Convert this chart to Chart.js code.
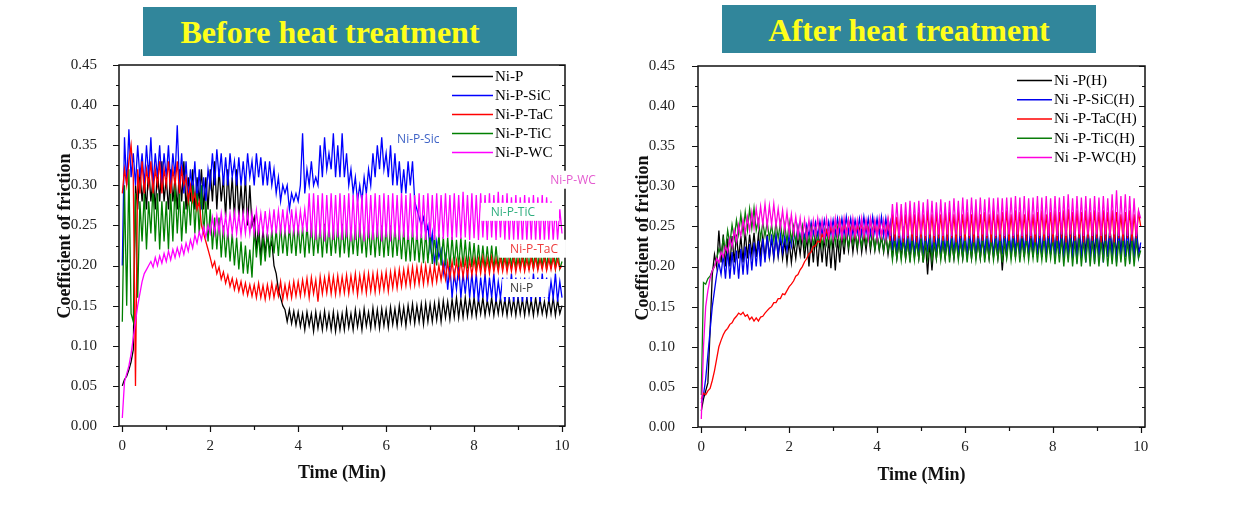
<!DOCTYPE html>
<html>
<head>
<meta charset="utf-8">
<script src="https://cdn.jsdelivr.net/npm/chart.js@4/dist/chart.umd.min.js"></script>
<style>
body{margin:0;background:#fff;width:1240px;height:514px;position:relative;overflow:hidden}
.head{position:absolute;background:#31869b;color:#ffff1a;font:bold 32px "Liberation Serif",serif;text-align:center}
.pane{position:absolute;top:0;width:620px;height:514px}
</style>
</head>
<body>
<div class="head" style="left:143px;top:7px;width:374px;height:49px;line-height:51px">Before heat treatment</div>
<div class="head" style="left:722px;top:5px;width:374px;height:48px;line-height:50px">After heat treatment</div>
<div class="pane" style="left:0"><canvas id="before" width="620" height="514"></canvas></div>
<div class="pane" style="left:620px"><canvas id="after" width="620" height="514"></canvas></div>
<script>
// time axis runs 0..10 min, each series is sampled evenly over it (20 readings per minute)
const TIME_END = 10;
const yMajor = [0, 0.05, 0.1, 0.15, 0.2, 0.25, 0.3, 0.35, 0.4, 0.45];
const yMinor = [0.025, 0.075, 0.125, 0.175, 0.225, 0.275, 0.325, 0.375, 0.425];
const xMajor = [0, 2, 4, 6, 8, 10];
const xMinor = [1, 3, 5, 7, 9];

const beforeLabels = ['Ni-P', 'Ni-P-SiC', 'Ni-P-TaC', 'Ni-P-TiC', 'Ni-P-WC'];
const afterLabels = ['Ni -P(H)', 'Ni -P-SiC(H)', 'Ni -P-TaC(H)', 'Ni -P-TiC(H)', 'Ni -P-WC(H)'];

// before heat treatment
const niP = [
  0.05, 0.058, 0.062, 0.07, 0.08, 0.095, 0.30, 0.27, 0.32, 0.28, 0.31, 0.27, 0.325, 0.28, 0.31, 0.27, 0.32, 0.28, 0.33, 0.28,
  0.31, 0.27, 0.32, 0.28, 0.31, 0.27, 0.32, 0.28, 0.33, 0.27, 0.31, 0.28, 0.32, 0.27, 0.31, 0.28, 0.32, 0.27, 0.31, 0.27,
  0.32, 0.28, 0.33, 0.27, 0.32, 0.28, 0.31, 0.26, 0.32, 0.27, 0.31, 0.26, 0.32, 0.26, 0.30, 0.26, 0.31, 0.25, 0.30, 0.25,
  0.26, 0.22, 0.25, 0.21, 0.245, 0.215, 0.24, 0.22, 0.23, 0.20, 0.19, 0.17, 0.16, 0.15, 0.145, 0.13, 0.145, 0.128, 0.143, 0.126,
  0.142, 0.124, 0.14, 0.12, 0.142, 0.125, 0.14, 0.118, 0.142, 0.122, 0.14, 0.12, 0.143, 0.122, 0.14, 0.12, 0.142, 0.118, 0.14, 0.12,
  0.14, 0.12, 0.145, 0.123, 0.14, 0.12, 0.145, 0.124, 0.142, 0.12, 0.146, 0.125, 0.142, 0.122, 0.147, 0.124, 0.145, 0.122, 0.146, 0.125,
  0.145, 0.123, 0.148, 0.127, 0.146, 0.125, 0.15, 0.128, 0.148, 0.125, 0.15, 0.13, 0.152, 0.128, 0.15, 0.13, 0.152, 0.127, 0.153, 0.13,
  0.152, 0.13, 0.153, 0.132, 0.155, 0.13, 0.156, 0.135, 0.155, 0.133, 0.158, 0.136, 0.16, 0.135, 0.158, 0.136, 0.16, 0.137, 0.158, 0.138,
  0.16, 0.137, 0.158, 0.14, 0.16, 0.138, 0.157, 0.14, 0.16, 0.138, 0.158, 0.14, 0.16, 0.14, 0.158, 0.138, 0.16, 0.14, 0.158, 0.138,
  0.16, 0.14, 0.158, 0.138, 0.16, 0.14, 0.157, 0.138, 0.16, 0.14, 0.158, 0.14, 0.155, 0.138, 0.158, 0.14, 0.16, 0.138, 0.157, 0.14,
  0.15
];
const niPSiC = [
  0.20, 0.36, 0.30, 0.37, 0.31, 0.34, 0.30, 0.35, 0.31, 0.34, 0.30, 0.35, 0.31, 0.36, 0.30, 0.34, 0.31, 0.35, 0.30, 0.34,
  0.31, 0.35, 0.30, 0.34, 0.31, 0.375, 0.30, 0.34, 0.29, 0.33, 0.28, 0.32, 0.29, 0.33, 0.28, 0.32, 0.27, 0.31, 0.28, 0.32,
  0.30, 0.34, 0.30, 0.345, 0.31, 0.34, 0.30, 0.335, 0.30, 0.34, 0.31, 0.33, 0.30, 0.335, 0.30, 0.33, 0.30, 0.34, 0.31, 0.33,
  0.30, 0.34, 0.31, 0.335, 0.30, 0.33, 0.30, 0.33, 0.30, 0.32, 0.29, 0.31, 0.28, 0.30, 0.29, 0.30, 0.27, 0.29, 0.28, 0.29,
  0.28, 0.30, 0.365, 0.29, 0.32, 0.30, 0.33, 0.30, 0.31, 0.30, 0.35, 0.31, 0.36, 0.32, 0.34, 0.32, 0.365, 0.31, 0.35, 0.31,
  0.365, 0.31, 0.34, 0.30, 0.32, 0.29, 0.31, 0.28, 0.30, 0.28, 0.31, 0.29, 0.32, 0.30, 0.34, 0.31, 0.35, 0.32, 0.36, 0.32,
  0.34, 0.31, 0.35, 0.30, 0.34, 0.30, 0.33, 0.29, 0.32, 0.29, 0.33, 0.30, 0.33, 0.28, 0.27, 0.26, 0.25, 0.26, 0.24, 0.25,
  0.22, 0.24, 0.20, 0.23, 0.21, 0.22, 0.19, 0.21, 0.17, 0.20, 0.16, 0.19, 0.17, 0.20, 0.16, 0.19, 0.165, 0.195, 0.16, 0.19,
  0.16, 0.19, 0.155, 0.185, 0.16, 0.19, 0.155, 0.185, 0.16, 0.19, 0.155, 0.18, 0.16, 0.185, 0.155, 0.18, 0.16, 0.19, 0.155, 0.185,
  0.16, 0.18, 0.155, 0.185, 0.16, 0.18, 0.155, 0.19, 0.16, 0.185, 0.155, 0.19, 0.16, 0.185, 0.155, 0.18, 0.16, 0.19, 0.155, 0.18,
  0.16
];
const niPTaC = [
  0.29, 0.32, 0.30, 0.33, 0.35, 0.31, 0.05, 0.32, 0.29, 0.33, 0.29, 0.32, 0.30, 0.33, 0.29, 0.32, 0.30, 0.33, 0.29, 0.32,
  0.30, 0.33, 0.29, 0.32, 0.30, 0.33, 0.29, 0.32, 0.30, 0.31, 0.28, 0.30, 0.28, 0.29, 0.27, 0.28, 0.25, 0.24, 0.23, 0.22,
  0.21, 0.198, 0.205, 0.19, 0.198, 0.183, 0.192, 0.178, 0.188, 0.174, 0.184, 0.17, 0.182, 0.168, 0.18, 0.165, 0.178, 0.163, 0.176, 0.162,
  0.176, 0.16, 0.178, 0.16, 0.175, 0.158, 0.176, 0.16, 0.178, 0.16, 0.175, 0.162, 0.18, 0.158, 0.176, 0.16, 0.178, 0.16, 0.18, 0.162,
  0.18, 0.162, 0.182, 0.164, 0.184, 0.16, 0.185, 0.165, 0.182, 0.155, 0.186, 0.165, 0.185, 0.166, 0.188, 0.165, 0.186, 0.164, 0.187, 0.165,
  0.186, 0.166, 0.188, 0.165, 0.187, 0.168, 0.19, 0.164, 0.188, 0.168, 0.19, 0.166, 0.19, 0.168, 0.19, 0.167, 0.191, 0.168, 0.19, 0.17,
  0.192, 0.168, 0.192, 0.172, 0.194, 0.172, 0.195, 0.174, 0.195, 0.175, 0.197, 0.175, 0.198, 0.176, 0.198, 0.177, 0.199, 0.177, 0.2, 0.178,
  0.198, 0.178, 0.2, 0.18, 0.2, 0.182, 0.202, 0.183, 0.204, 0.184, 0.205, 0.185, 0.206, 0.186, 0.206, 0.186, 0.207, 0.187, 0.207, 0.188,
  0.208, 0.19, 0.208, 0.19, 0.21, 0.19, 0.208, 0.19, 0.21, 0.192, 0.208, 0.192, 0.21, 0.193, 0.21, 0.192, 0.208, 0.193, 0.21, 0.192,
  0.208, 0.194, 0.21, 0.193, 0.208, 0.194, 0.21, 0.195, 0.21, 0.194, 0.208, 0.195, 0.21, 0.194, 0.208, 0.195, 0.21, 0.195, 0.208, 0.196,
  0.2
];
const niPTiC = [
  0.13, 0.30, 0.15, 0.32, 0.14, 0.13, 0.29, 0.16, 0.28, 0.23, 0.29, 0.22, 0.28, 0.24, 0.30, 0.23, 0.29, 0.22, 0.28, 0.23,
  0.28, 0.22, 0.29, 0.23, 0.30, 0.24, 0.29, 0.23, 0.28, 0.24, 0.29, 0.25, 0.30, 0.24, 0.29, 0.24, 0.30, 0.24, 0.28, 0.23,
  0.27, 0.22, 0.26, 0.22, 0.26, 0.21, 0.25, 0.21, 0.245, 0.205, 0.24, 0.20, 0.235, 0.195, 0.23, 0.19, 0.225, 0.19, 0.22, 0.185,
  0.245, 0.21, 0.24, 0.20, 0.235, 0.205, 0.24, 0.21, 0.245, 0.215, 0.245, 0.212, 0.25, 0.215, 0.245, 0.212, 0.25, 0.215, 0.248, 0.212,
  0.25, 0.215, 0.248, 0.21, 0.25, 0.215, 0.252, 0.212, 0.248, 0.215, 0.25, 0.21, 0.252, 0.215, 0.25, 0.212, 0.248, 0.215, 0.25, 0.21,
  0.252, 0.215, 0.25, 0.21, 0.248, 0.214, 0.25, 0.212, 0.252, 0.215, 0.248, 0.21, 0.25, 0.213, 0.25, 0.21, 0.248, 0.212, 0.25, 0.21,
  0.248, 0.212, 0.25, 0.21, 0.248, 0.212, 0.245, 0.208, 0.245, 0.205, 0.242, 0.205, 0.245, 0.206, 0.242, 0.204, 0.24, 0.203, 0.242, 0.203,
  0.24, 0.202, 0.238, 0.2, 0.24, 0.2, 0.236, 0.2, 0.235, 0.198, 0.236, 0.2, 0.232, 0.198, 0.235, 0.198, 0.232, 0.196, 0.23, 0.198,
  0.228, 0.195, 0.226, 0.196, 0.225, 0.195, 0.224, 0.196, 0.225, 0.195, 0.224, 0.195, 0.225, 0.196, 0.224, 0.195, 0.226, 0.196, 0.224, 0.195,
  0.225, 0.196, 0.224, 0.197, 0.222, 0.195, 0.225, 0.196, 0.224, 0.195, 0.226, 0.196, 0.224, 0.195, 0.225, 0.196, 0.224, 0.197, 0.222, 0.196,
  0.205
];
const niPWC = [
  0.01, 0.055, 0.065, 0.075, 0.09, 0.11, 0.13, 0.15, 0.165, 0.18, 0.19, 0.195, 0.2, 0.205, 0.198, 0.21, 0.2, 0.212, 0.203, 0.215,
  0.205, 0.218, 0.207, 0.22, 0.21, 0.222, 0.212, 0.225, 0.214, 0.228, 0.218, 0.232, 0.222, 0.238, 0.228, 0.242, 0.232, 0.248, 0.235, 0.25,
  0.24, 0.26, 0.24, 0.262, 0.242, 0.265, 0.24, 0.262, 0.238, 0.265, 0.24, 0.266, 0.24, 0.264, 0.238, 0.265, 0.24, 0.266, 0.24, 0.265,
  0.24, 0.268, 0.242, 0.265, 0.24, 0.268, 0.24, 0.266, 0.242, 0.27, 0.24, 0.268, 0.242, 0.27, 0.242, 0.268, 0.24, 0.27, 0.242, 0.268,
  0.242, 0.268, 0.245, 0.27, 0.242, 0.29, 0.235, 0.29, 0.232, 0.288, 0.235, 0.29, 0.23, 0.288, 0.235, 0.29, 0.232, 0.288, 0.235, 0.29,
  0.232, 0.288, 0.235, 0.29, 0.23, 0.288, 0.232, 0.29, 0.235, 0.288, 0.23, 0.29, 0.234, 0.288, 0.232, 0.29, 0.235, 0.288, 0.23, 0.29,
  0.235, 0.288, 0.23, 0.29, 0.235, 0.288, 0.232, 0.29, 0.235, 0.288, 0.232, 0.29, 0.235, 0.288, 0.232, 0.29, 0.234, 0.288, 0.232, 0.29,
  0.235, 0.288, 0.232, 0.29, 0.235, 0.288, 0.233, 0.29, 0.235, 0.288, 0.232, 0.29, 0.235, 0.288, 0.233, 0.292, 0.235, 0.288, 0.232, 0.29,
  0.234, 0.288, 0.232, 0.29, 0.235, 0.288, 0.232, 0.29, 0.235, 0.288, 0.232, 0.292, 0.235, 0.288, 0.232, 0.29, 0.23, 0.285, 0.232, 0.288,
  0.23, 0.285, 0.228, 0.288, 0.23, 0.285, 0.232, 0.288, 0.23, 0.285, 0.228, 0.288, 0.23, 0.285, 0.232, 0.28, 0.23, 0.275, 0.232, 0.27,
  0.24
];

// after heat treatment
const niPH = [
  0.02, 0.035, 0.045, 0.055, 0.12, 0.19, 0.215, 0.2, 0.245, 0.205, 0.24, 0.2, 0.235, 0.2, 0.238, 0.205, 0.24, 0.21, 0.238, 0.205,
  0.245, 0.21, 0.24, 0.215, 0.242, 0.212, 0.24, 0.215, 0.238, 0.21, 0.24, 0.212, 0.235, 0.21, 0.238, 0.212, 0.235, 0.21, 0.232, 0.205,
  0.232, 0.205, 0.23, 0.21, 0.235, 0.215, 0.24, 0.21, 0.238, 0.2, 0.235, 0.205, 0.24, 0.2, 0.235, 0.205, 0.238, 0.2, 0.235, 0.198,
  0.235, 0.195, 0.235, 0.205, 0.24, 0.215, 0.245, 0.22, 0.245, 0.218, 0.242, 0.22, 0.245, 0.218, 0.24, 0.22, 0.245, 0.22, 0.242, 0.22,
  0.24, 0.22, 0.238, 0.218, 0.24, 0.215, 0.235, 0.212, 0.235, 0.21, 0.232, 0.212, 0.235, 0.21, 0.232, 0.21, 0.235, 0.212, 0.232, 0.21,
  0.235, 0.205, 0.232, 0.19, 0.23, 0.195, 0.232, 0.21, 0.235, 0.212, 0.232, 0.21, 0.235, 0.212, 0.232, 0.21, 0.235, 0.212, 0.232, 0.21,
  0.235, 0.212, 0.232, 0.21, 0.235, 0.212, 0.232, 0.21, 0.235, 0.212, 0.232, 0.21, 0.235, 0.212, 0.232, 0.21, 0.235, 0.195, 0.232, 0.212,
  0.24, 0.215, 0.242, 0.212, 0.245, 0.215, 0.24, 0.212, 0.245, 0.215, 0.242, 0.212, 0.245, 0.215, 0.24, 0.212, 0.245, 0.215, 0.242, 0.215,
  0.245, 0.215, 0.25, 0.218, 0.245, 0.215, 0.25, 0.215, 0.245, 0.218, 0.25, 0.215, 0.245, 0.215, 0.25, 0.218, 0.245, 0.215, 0.25, 0.218,
  0.245, 0.215, 0.25, 0.218, 0.245, 0.215, 0.248, 0.218, 0.245, 0.215, 0.248, 0.218, 0.245, 0.215, 0.25, 0.218, 0.245, 0.215, 0.248, 0.22,
  0.225
];
const niPSiCH = [
  0.03, 0.04, 0.06, 0.09, 0.12, 0.15, 0.17, 0.19, 0.205, 0.19, 0.215, 0.185, 0.22, 0.185, 0.218, 0.19, 0.22, 0.185, 0.222, 0.19,
  0.225, 0.19, 0.228, 0.195, 0.23, 0.2, 0.232, 0.2, 0.235, 0.205, 0.238, 0.21, 0.24, 0.212, 0.238, 0.215, 0.24, 0.218, 0.238, 0.22,
  0.24, 0.225, 0.245, 0.23, 0.25, 0.232, 0.25, 0.235, 0.252, 0.238, 0.255, 0.24, 0.255, 0.238, 0.256, 0.24, 0.258, 0.24, 0.256, 0.24,
  0.258, 0.24, 0.26, 0.242, 0.26, 0.24, 0.262, 0.242, 0.26, 0.24, 0.258, 0.242, 0.26, 0.24, 0.262, 0.242, 0.26, 0.24, 0.262, 0.242,
  0.26, 0.24, 0.262, 0.238, 0.26, 0.238, 0.255, 0.22, 0.25, 0.218, 0.248, 0.22, 0.25, 0.215, 0.248, 0.218, 0.25, 0.215, 0.248, 0.218,
  0.25, 0.215, 0.245, 0.218, 0.248, 0.215, 0.25, 0.218, 0.245, 0.215, 0.248, 0.218, 0.25, 0.215, 0.245, 0.218, 0.248, 0.215, 0.25, 0.218,
  0.245, 0.215, 0.248, 0.218, 0.25, 0.215, 0.245, 0.218, 0.248, 0.215, 0.25, 0.218, 0.245, 0.215, 0.248, 0.218, 0.25, 0.215, 0.248, 0.218,
  0.25, 0.215, 0.248, 0.218, 0.252, 0.215, 0.25, 0.218, 0.248, 0.215, 0.252, 0.218, 0.25, 0.215, 0.248, 0.215, 0.25, 0.212, 0.252, 0.215,
  0.25, 0.212, 0.252, 0.215, 0.25, 0.21, 0.248, 0.212, 0.25, 0.21, 0.248, 0.205, 0.25, 0.21, 0.248, 0.205, 0.25, 0.21, 0.248, 0.205,
  0.25, 0.21, 0.248, 0.205, 0.25, 0.212, 0.248, 0.21, 0.25, 0.205, 0.248, 0.21, 0.25, 0.212, 0.248, 0.205, 0.25, 0.21, 0.248, 0.212,
  0.23
];
const niPTaCH = [
  0.035, 0.042, 0.04, 0.045, 0.048, 0.058, 0.07, 0.085, 0.1, 0.108, 0.115, 0.12, 0.123, 0.128, 0.13, 0.135, 0.138, 0.142, 0.14, 0.143,
  0.138, 0.14, 0.134, 0.137, 0.132, 0.136, 0.132, 0.137, 0.138, 0.142, 0.145, 0.148, 0.15, 0.155, 0.155, 0.16, 0.16, 0.166, 0.165, 0.17,
  0.175, 0.178, 0.182, 0.188, 0.19, 0.196, 0.2, 0.206, 0.21, 0.216, 0.218, 0.225, 0.226, 0.232, 0.23, 0.24, 0.235, 0.245, 0.236, 0.25,
  0.238, 0.255, 0.24, 0.258, 0.238, 0.255, 0.24, 0.258, 0.24, 0.255, 0.238, 0.252, 0.24, 0.255, 0.238, 0.255, 0.24, 0.258, 0.238, 0.255,
  0.24, 0.255, 0.238, 0.255, 0.24, 0.258, 0.232, 0.265, 0.232, 0.262, 0.235, 0.268, 0.23, 0.265, 0.235, 0.268, 0.232, 0.265, 0.23, 0.268,
  0.235, 0.265, 0.232, 0.27, 0.235, 0.265, 0.23, 0.268, 0.235, 0.265, 0.232, 0.27, 0.232, 0.268, 0.235, 0.265, 0.23, 0.27, 0.235, 0.265,
  0.232, 0.268, 0.235, 0.265, 0.23, 0.27, 0.235, 0.265, 0.232, 0.268, 0.235, 0.265, 0.23, 0.27, 0.235, 0.265, 0.232, 0.268, 0.235, 0.27,
  0.232, 0.265, 0.235, 0.27, 0.23, 0.268, 0.235, 0.265, 0.232, 0.27, 0.235, 0.265, 0.23, 0.268, 0.235, 0.27, 0.232, 0.265, 0.235, 0.268,
  0.23, 0.27, 0.232, 0.268, 0.235, 0.27, 0.23, 0.272, 0.235, 0.268, 0.232, 0.27, 0.235, 0.268, 0.23, 0.27, 0.235, 0.268, 0.232, 0.27,
  0.235, 0.268, 0.23, 0.27, 0.232, 0.268, 0.235, 0.27, 0.23, 0.268, 0.235, 0.265, 0.232, 0.268, 0.235, 0.27, 0.232, 0.265, 0.235, 0.268,
  0.25
];
const niPTiCH = [
  0.04, 0.18, 0.178, 0.185, 0.188, 0.195, 0.2, 0.21, 0.222, 0.215, 0.235, 0.22, 0.245, 0.228, 0.252, 0.235, 0.258, 0.24, 0.265, 0.242,
  0.268, 0.245, 0.272, 0.248, 0.273, 0.245, 0.258, 0.235, 0.255, 0.238, 0.255, 0.235, 0.252, 0.232, 0.255, 0.235, 0.255, 0.232, 0.252, 0.23,
  0.255, 0.232, 0.25, 0.228, 0.248, 0.23, 0.25, 0.225, 0.245, 0.228, 0.248, 0.225, 0.245, 0.228, 0.248, 0.225, 0.245, 0.228, 0.245, 0.225,
  0.245, 0.228, 0.248, 0.225, 0.245, 0.228, 0.245, 0.225, 0.242, 0.228, 0.245, 0.225, 0.242, 0.225, 0.245, 0.228, 0.242, 0.225, 0.245, 0.222,
  0.24, 0.222, 0.238, 0.22, 0.238, 0.22, 0.235, 0.208, 0.235, 0.21, 0.232, 0.208, 0.235, 0.21, 0.232, 0.205, 0.235, 0.208, 0.232, 0.21,
  0.235, 0.205, 0.232, 0.21, 0.235, 0.208, 0.232, 0.21, 0.235, 0.208, 0.232, 0.21, 0.235, 0.205, 0.232, 0.21, 0.235, 0.208, 0.232, 0.21,
  0.235, 0.205, 0.232, 0.21, 0.235, 0.208, 0.232, 0.21, 0.235, 0.205, 0.232, 0.21, 0.235, 0.208, 0.232, 0.21, 0.235, 0.205, 0.232, 0.21,
  0.235, 0.208, 0.232, 0.21, 0.235, 0.205, 0.232, 0.21, 0.235, 0.208, 0.232, 0.21, 0.235, 0.205, 0.232, 0.208, 0.235, 0.205, 0.232, 0.21,
  0.235, 0.203, 0.232, 0.205, 0.235, 0.2, 0.232, 0.205, 0.235, 0.2, 0.232, 0.203, 0.235, 0.2, 0.232, 0.205, 0.235, 0.2, 0.232, 0.203,
  0.235, 0.2, 0.232, 0.205, 0.235, 0.2, 0.232, 0.203, 0.235, 0.2, 0.232, 0.205, 0.235, 0.2, 0.232, 0.203, 0.235, 0.2, 0.232, 0.21,
  0.22
];
const niPWCH = [
  0.01, 0.1, 0.15, 0.17, 0.185, 0.195, 0.2, 0.21, 0.205, 0.218, 0.212, 0.225, 0.218, 0.235, 0.225, 0.245, 0.232, 0.252, 0.238, 0.258,
  0.242, 0.262, 0.245, 0.268, 0.248, 0.272, 0.25, 0.275, 0.252, 0.278, 0.25, 0.276, 0.252, 0.278, 0.25, 0.272, 0.248, 0.27, 0.245, 0.268,
  0.242, 0.265, 0.24, 0.262, 0.238, 0.26, 0.235, 0.258, 0.235, 0.258, 0.235, 0.258, 0.238, 0.26, 0.238, 0.258, 0.235, 0.26, 0.238, 0.258,
  0.235, 0.26, 0.238, 0.258, 0.235, 0.26, 0.238, 0.258, 0.235, 0.26, 0.238, 0.258, 0.235, 0.26, 0.238, 0.258, 0.235, 0.26, 0.238, 0.258,
  0.235, 0.26, 0.238, 0.258, 0.235, 0.26, 0.238, 0.278, 0.24, 0.28, 0.238, 0.278, 0.235, 0.28, 0.238, 0.282, 0.24, 0.28, 0.238, 0.282,
  0.24, 0.28, 0.238, 0.284, 0.24, 0.282, 0.238, 0.28, 0.24, 0.284, 0.238, 0.28, 0.24, 0.282, 0.238, 0.285, 0.24, 0.282, 0.238, 0.286,
  0.24, 0.284, 0.238, 0.286, 0.24, 0.284, 0.238, 0.286, 0.24, 0.284, 0.238, 0.286, 0.24, 0.285, 0.238, 0.286, 0.24, 0.285, 0.238, 0.286,
  0.24, 0.286, 0.238, 0.288, 0.24, 0.286, 0.238, 0.288, 0.24, 0.285, 0.238, 0.286, 0.24, 0.288, 0.238, 0.286, 0.24, 0.288, 0.238, 0.285,
  0.24, 0.288, 0.238, 0.286, 0.24, 0.288, 0.238, 0.29, 0.24, 0.285, 0.238, 0.288, 0.24, 0.286, 0.238, 0.288, 0.24, 0.285, 0.238, 0.288,
  0.24, 0.286, 0.238, 0.288, 0.24, 0.285, 0.238, 0.29, 0.24, 0.295, 0.238, 0.288, 0.24, 0.29, 0.238, 0.288, 0.24, 0.285, 0.238, 0.27,
  0.26
];

const serif = '"Liberation Serif", "Times New Roman", serif';

function toPoints(vals) {
  return vals.map((v, i) => ({ x: i * TIME_END / (vals.length - 1), y: v }));
}

// frame, ticks, axis titles, legend and the text notes
const deco = {
  id: 'deco',
  afterDraw(chart, args, o) {
    const { ctx, chartArea: a, scales: { x, y } } = chart;
    ctx.save();
    ctx.strokeStyle = '#111';
    ctx.lineWidth = 1.5;
    ctx.strokeRect(a.left, a.top, a.right - a.left, a.bottom - a.top);
    ctx.lineWidth = 1.2;
    ctx.beginPath();
    const yt = (v, len) => {
      const p = Math.round(y.getPixelForValue(v)) + 0.5;
      ctx.moveTo(a.left - len, p); ctx.lineTo(a.left, p);
      ctx.moveTo(a.right, p); ctx.lineTo(a.right - len, p);
    };
    yMajor.forEach(v => yt(v, 6));
    yMinor.forEach(v => yt(v, 3));
    const xt = (v, len) => {
      const p = Math.round(x.getPixelForValue(v)) + 0.5;
      ctx.moveTo(p, a.bottom); ctx.lineTo(p, a.bottom + len);
    };
    xMajor.forEach(v => xt(v, 6));
    xMinor.forEach(v => xt(v, 4));
    ctx.stroke();

    // axis titles
    ctx.fillStyle = '#111';
    ctx.font = 'bold 18px ' + serif;
    ctx.textAlign = 'center';
    ctx.textBaseline = 'middle';
    ctx.fillText('Time (Min)', (a.left + a.right) / 2, o.xTitleY);
    ctx.save();
    ctx.translate(o.yTitleX, o.yTitleY);
    ctx.rotate(-Math.PI / 2);
    ctx.fillText('Coefficient of friction', 0, 0);
    ctx.restore();

    // legend
    ctx.font = '15px ' + serif;
    ctx.textAlign = 'left';
    chart.data.datasets.forEach((ds, i) => {
      const ly = o.legendY + i * o.legendGap;
      ctx.strokeStyle = ds.borderColor;
      ctx.lineWidth = 1.5;
      ctx.beginPath();
      ctx.moveTo(o.legendX, ly + 0.5);
      ctx.lineTo(o.legendX + o.legendLine, ly + 0.5);
      ctx.stroke();
      ctx.fillStyle = '#000';
      ctx.fillText(ds.label, o.legendX + o.legendLine + 2, ly + 1);
    });

    // notes placed on the data scales
    ctx.font = '12px "Open Sans", sans-serif';
    (o.notes || []).forEach(n => {
      const px = x.getPixelForValue(n.t);
      const py = y.getPixelForValue(n.v);
      const w = ctx.measureText(n.text).width;
      if (n.box) {
        ctx.fillStyle = '#fff';
        ctx.fillRect(px - n.box[0], py - 9, w + n.box[0] + n.box[1], 18);
      }
      ctx.fillStyle = n.color;
      ctx.fillText(n.text, px, py + 1);
    });
    ctx.restore();
  }
};

function makeChart(id, labels, series, colors, order, lay) {
  new Chart(document.getElementById(id), {
    type: 'line',
    data: {
      datasets: series.map((s, i) => ({
        label: labels[i],
        data: toPoints(s),
        borderColor: colors[i],
        backgroundColor: colors[i],
        borderWidth: 1.3,
        pointRadius: 0,
        tension: 0,
        fill: false,
        order: order[i]
      }))
    },
    options: {
      responsive: false,
      animation: false,
      layout: { padding: { top: lay.top, right: lay.right, bottom: 0, left: 0 } },
      plugins: {
        legend: { display: false },
        tooltip: { enabled: false },
        deco: lay.deco
      },
      scales: {
        x: {
          type: 'linear',
          min: lay.xMin,
          max: lay.xMax,
          afterBuildTicks: s => { s.ticks = xMajor.map(v => ({ value: v })); },
          afterFit: s => { s.height = lay.xHeight; },
          grid: { display: false },
          border: { display: false },
          ticks: { padding: lay.xPad, maxRotation: 0, autoSkip: false, color: '#222', font: { family: serif, size: 15 } }
        },
        y: {
          min: 0,
          max: 0.45,
          afterBuildTicks: s => { s.ticks = yMajor.map(v => ({ value: v })); },
          afterFit: s => { s.width = lay.yWidth; },
          grid: { display: false },
          border: { display: false },
          ticks: { padding: lay.yPad, color: '#222', font: { family: serif, size: 15 }, callback: v => v.toFixed(2) }
        }
      }
    },
    plugins: [deco]
  });
}

makeChart('before', beforeLabels,
  [niP, niPSiC, niPTaC, niPTiC, niPWC],
  ['#000000', '#0000ff', '#ff0000', '#008000', '#ff00ff'],
  [4, 3, 1, 2, 0],
  {
    top: 65, right: 55, xHeight: 88, yWidth: 119, xPad: 3, yPad: 14,
    xMin: -0.075, xMax: 10.068,
    deco: {
      xTitleY: 473, yTitleX: 65, yTitleY: 236,
      legendX: 452, legendY: 76, legendGap: 19, legendLine: 41,
      notes: [
        { text: 'Ni-P-Sic', t: 6.25, v: 0.358, color: '#3f63c6' },
        { text: 'Ni-P-WC', t: 9.73, v: 0.307, color: '#e45ad0', box: [2, 2] },
        { text: 'Ni-P-TiC', t: 8.38, v: 0.267, color: '#2fae7e', box: [10, 24] },
        { text: 'Ni-P-TaC', t: 8.82, v: 0.221, color: '#ee3b3b', box: [11, 8] },
        { text: 'Ni-P', t: 8.82, v: 0.172, color: '#3a3a3a', box: [8, 15] }
      ]
    }
  });

makeChart('after', afterLabels,
  [niPH, niPSiCH, niPTaCH, niPTiCH, niPWCH],
  ['#000000', '#0000ee', '#ff0000', '#0a7d0a', '#ff00dd'],
  [4, 3, 1, 2, 0],
  {
    top: 66, right: 95, xHeight: 87, yWidth: 78, xPad: 3, yPad: 15,
    xMin: -0.075, xMax: 10.098,
    deco: {
      xTitleY: 475, yTitleX: 23, yTitleY: 238,
      legendX: 397, legendY: 80, legendGap: 19.25, legendLine: 35,
      notes: []
    }
  });
</script>
</body>
</html>
